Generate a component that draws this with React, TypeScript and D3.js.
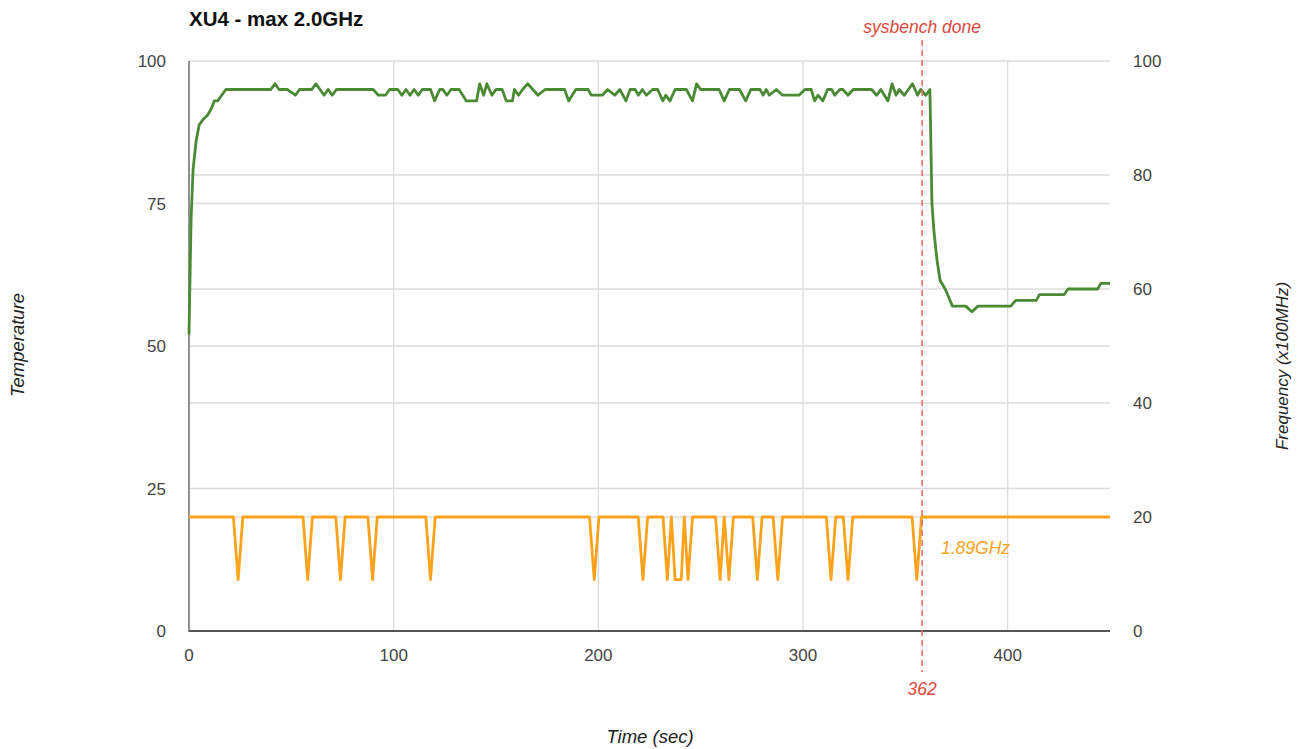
import React from "react";
import * as d3 from "d3";

// Temperature polyline vertices: [time (sec), temperature]
const temperature: [number, number][] = [
  [0, 52], [1, 72], [2, 81], [3.5, 86], [5, 88.8], [7, 89.8], [9, 90.5], [10.7, 91.5], [12.4, 93], [14, 93], [18, 95],
  [40, 95], [42, 96], [44, 95], [48, 95], [52, 94], [54, 95], [60, 95], [62, 96], [64, 95], [66, 94], [68, 95],
  [70, 94], [72, 95], [90, 95], [92.5, 94], [96, 94], [98, 95], [102, 95], [104, 94], [106, 95], [108, 94],
  [110, 95], [112, 94], [114, 95], [118, 95], [120, 93], [122.5, 95], [124, 95], [126, 94], [128, 95], [132, 95],
  [135.5, 93], [140.5, 93], [142, 96], [144, 94], [145.5, 96], [148, 94], [150, 95], [153, 95], [155, 93],
  [158, 93], [159, 95], [161, 94], [163, 95], [165.5, 96], [168, 95], [170.5, 94], [174, 95], [183.5, 95],
  [185.5, 93], [189, 95], [195, 95], [196.5, 94], [202, 94], [204.5, 95], [208, 94], [210.5, 95], [213.5, 93],
  [215.5, 95], [218, 95], [219.5, 94], [221.5, 95], [223.5, 94], [226.5, 95], [229, 95], [231.5, 93], [233, 94],
  [235, 93], [237.5, 95], [243, 95], [246, 93], [248, 96], [250, 95], [259, 95], [261.5, 93], [264, 95],
  [269, 95], [272, 93], [274.5, 95], [279, 95], [280.5, 94], [282, 95], [283.5, 94], [287, 95], [290, 94],
  [298, 94], [301, 95], [304, 95], [305.7, 93], [307.3, 94], [309.7, 93], [312, 95], [314, 95], [315.5, 94],
  [318, 95], [319.5, 95], [322, 94], [324.5, 95], [333.5, 95], [336, 94], [338, 95], [341.5, 93], [343.5, 96],
  [345.5, 94], [347, 95], [349.5, 94], [353.5, 96], [356, 94], [357.5, 95], [360, 94], [362, 95], [363, 75],
  [364, 70], [365.5, 65], [367, 61.5], [369.5, 60], [373, 57], [379.5, 57], [382.5, 56], [385.5, 57],
  [401.5, 57], [404, 58], [414, 58], [415.5, 59], [427.5, 59], [429.5, 60], [444, 60], [445.5, 61], [450, 61],
];

// Frequency polyline vertices: [time (sec), frequency (x100MHz)]
const frequency: [number, number][] = [
  [0, 20], [21.7, 20], [24, 9], [26.3, 20], [55.7, 20], [58, 9], [60.3, 20], [71.7, 20], [74, 9], [76.3, 20],
  [87.4, 20], [89.7, 9], [92, 20], [115.7, 20], [118, 9], [120.3, 20], [195.7, 20], [198, 9], [200.3, 20],
  [219.5, 20], [221.8, 9], [224.1, 20], [231.6, 20], [233.7, 9], [235.7, 20], [237.5, 9], [240.5, 9], [242, 20],
  [243.8, 9], [246, 20], [257.3, 20], [259.5, 9], [261.5, 20], [263.8, 9], [266, 20], [275.4, 20], [277.7, 9],
  [280, 20], [285.4, 20], [287.7, 9], [290, 20], [311.4, 20], [313.7, 9], [316, 20], [319.7, 20], [322, 9],
  [324.3, 20], [353.3, 20], [355.6, 9], [357.9, 20], [450, 20],
];

const xTicks = [0, 100, 200, 300, 400];
const leftTicks = [0, 25, 50, 75, 100];
const rightTicks = [0, 20, 40, 60, 80, 100];
const doneTime = 358.2;
const doneLabel = "362";
const freqLabel = "1.89GHz";
const title = "XU4 - max 2.0GHz";

const W = 1303;
const H = 749;
const FONT = "Arial, 'Liberation Sans', Helvetica, sans-serif";

export default function App() {
  const x = d3.scaleLinear().domain([0, 450]).range([189, 1110]);
  const yL = d3.scaleLinear().domain([0, 100]).range([631, 61]);
  const yR = d3.scaleLinear().domain([0, 100]).range([631, 61]);

  const line = d3
    .line<[number, number]>()
    .x((d) => x(d[0]))
    .y((d) => yL(d[1]));
  const lineR = d3
    .line<[number, number]>()
    .x((d) => x(d[0]))
    .y((d) => yR(d[1]));

  const gridY = Array.from(new Set([...leftTicks.map((t) => yL(t)), ...rightTicks.map((t) => yR(t))]));

  return (
    <svg
      width={W}
      height={H}
      style={{ position: "absolute", left: 0, top: 0, background: "#fff" }}
      fontFamily={FONT}
    >
      <rect x={0} y={0} width={W} height={H} fill="#fff" />
      {gridY.map((gy, i) => (
        <line key={"gy" + i} x1={189} x2={1110} y1={gy} y2={gy} stroke="#dcdcdc" strokeWidth={1.3} />
      ))}
      {xTicks
        .filter((t) => t > 0)
        .map((t) => (
          <line key={"gx" + t} x1={x(t)} x2={x(t)} y1={61} y2={631} stroke="#dcdcdc" strokeWidth={1.3} />
        ))}
      <line x1={189} x2={189} y1={61} y2={632} stroke="#777" strokeWidth={1.6} />
      <line x1={189} x2={1110} y1={631} y2={631} stroke="#555" strokeWidth={2} />

      <path d={lineR(frequency) || ""} fill="none" stroke="#fca21c" strokeWidth={2.8} strokeLinejoin="round" />
      <path d={line(temperature) || ""} fill="none" stroke="#4b8a35" strokeWidth={2.8} strokeLinejoin="round" />

      <line
        x1={x(doneTime)}
        x2={x(doneTime)}
        y1={40}
        y2={672}
        stroke="#ea6a60"
        strokeWidth={1.5}
        strokeDasharray="6,4"
      />
      <text x={x(doneTime)} y={33} textAnchor="middle" fontSize={17.5} fontStyle="italic" fill="#e0483e">
        sysbench done
      </text>
      <text x={x(doneTime)} y={695} textAnchor="middle" fontSize={17.5} fontStyle="italic" fill="#e0483e">
        {doneLabel}
      </text>
      <text x={941} y={554} fontSize={17.5} fontStyle="italic" fill="#fca21c">
        {freqLabel}
      </text>

      {leftTicks.map((t) => (
        <text key={"l" + t} x={166} y={yL(t) + 6} textAnchor="end" fontSize={17} fill="#444">
          {t}
        </text>
      ))}
      {rightTicks.map((t) => (
        <text key={"r" + t} x={1133} y={yR(t) + 6} textAnchor="start" fontSize={17} fill="#444">
          {t}
        </text>
      ))}
      {xTicks.map((t) => (
        <text key={"x" + t} x={x(t)} y={661} textAnchor="middle" fontSize={17} fill="#444">
          {t}
        </text>
      ))}

      <text x={189} y={26} fontSize={20.5} fontWeight="bold" fill="#111">
        {title}
      </text>
      <text x={650} y={743} textAnchor="middle" fontSize={18.5} fontStyle="italic" fill="#222">
        Time (sec)
      </text>
      <text
        transform={`translate(24,345) rotate(-90)`}
        textAnchor="middle"
        fontSize={18.5}
        fontStyle="italic"
        fill="#222"
      >
        Temperature
      </text>
      <text
        transform={`translate(1288,366) rotate(-90)`}
        textAnchor="middle"
        fontSize={17}
        fontStyle="italic"
        fill="#222"
      >
        Frequency (x100MHz)
      </text>
    </svg>
  );
}
